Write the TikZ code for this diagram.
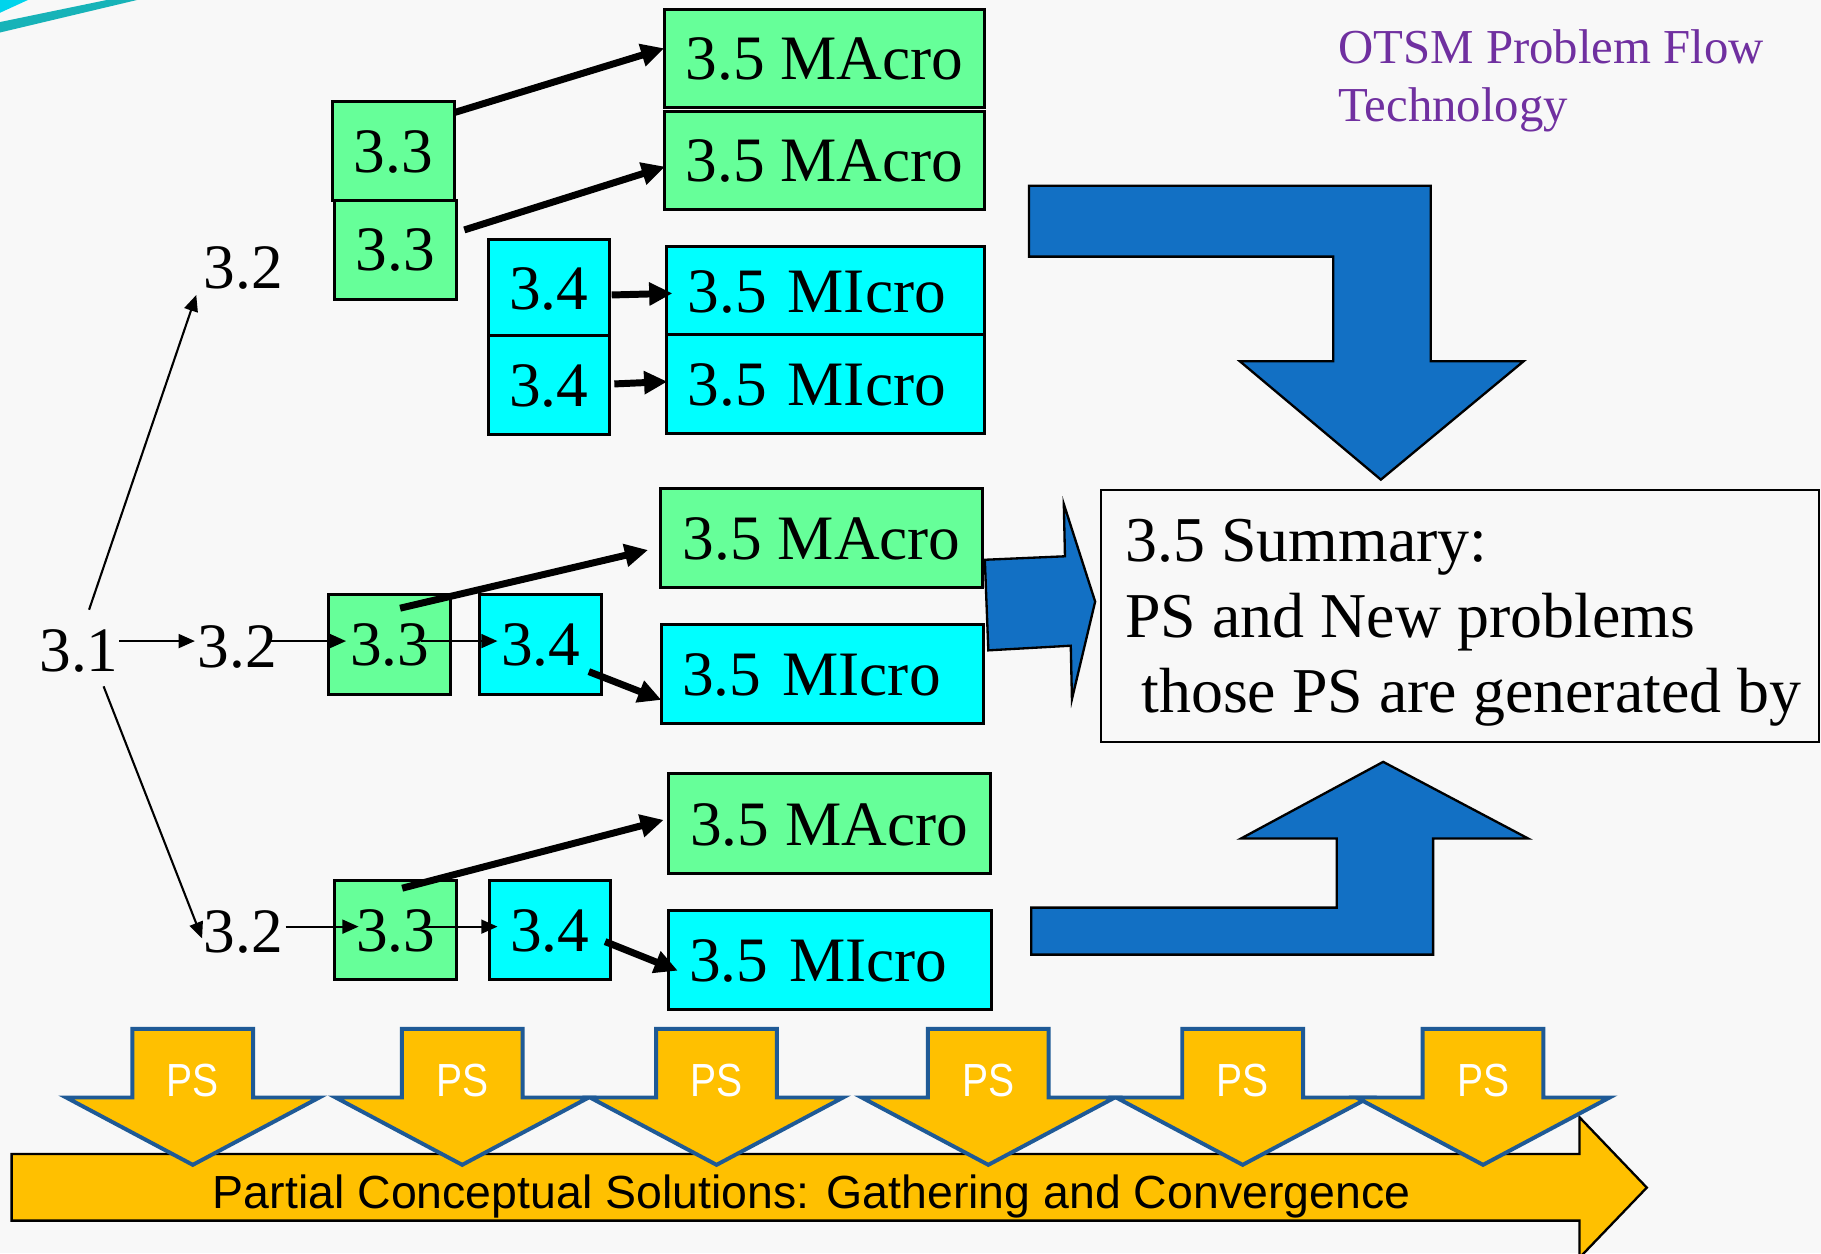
\documentclass[tikz,border=0pt]{standalone}
\usepackage{fontspec}
\setmainfont{Liberation Serif}
\newfontfamily\barsans{Liberation Sans}
\newfontfamily\pssans[FakeStretch=0.84]{Liberation Sans}
\usetikzlibrary{arrows.meta,calc}

\definecolor{boxgreen}{HTML}{66FF99}
\definecolor{boxcyan}{HTML}{00FFFF}
\definecolor{flowblue}{HTML}{1270C4}
\definecolor{psgold}{HTML}{FFC000}
\definecolor{psedge}{HTML}{1F5A96}
\definecolor{titlepurple}{HTML}{7030A0}
\definecolor{paper}{HTML}{F8F8F8}
\definecolor{swoosh}{HTML}{17B3B8}
\definecolor{swooshlight}{HTML}{00D4EC}

\newlength\px
\setlength\px{0.5pt}

\tikzset{
  every node/.style={inner sep=0pt},
  numfont/.style={font=\fontsize{27.25pt}{33pt}\selectfont},
  numtext/.style={numfont, text height=18.4pt, text depth=0pt},
  stepbox/.style={numtext, draw=black, line width=1.3pt, align=center},
  greenbox/.style={stepbox, fill=boxgreen},
  cyanbox/.style={stepbox, fill=boxcyan},
  dims/.style 2 args={minimum width=#1\px, minimum height=#2\px},
  microbox/.style 2 args={cyanbox, align=left, inner xsep=18\px,
                          text width=#1\px, minimum height=#2\px},
  thinarrow/.style={line width=0.9pt, -{Triangle[length=7pt,width=6pt]}},
  thickarrow/.style={line width=3pt, -{Triangle[length=10pt,width=9.5pt]}},
  bigblue/.style={fill=flowblue, draw=black, line width=1pt, line join=miter},
  psarrow/.style={fill=psgold, draw=psedge, line width=1.7pt, line join=miter},
  pstext/.style={font=\pssans\fontsize{20pt}{24pt}\selectfont, text=white, anchor=base},
  titletext/.style={font=\fontsize{21pt}{25pt}\selectfont, text=titlepurple, anchor=base west},
}

\begin{document}
\begin{tikzpicture}[x=0.5pt,y=-0.5pt]
% page
\path[use as bounding box, fill=paper] (0,0) rectangle (1568,1079);

% corner swoosh
\fill[swooshlight] (0,0) -- (24,0) -- (0,11) -- cycle;
\fill[swoosh] (0,19) -- (92,0) -- (118,0) -- (0,28) -- cycle;

% title
\node[titletext] (title1) at (1152,54.5) {OTSM Problem Flow};
\node[titletext] (title2) at (1152,104.8) {Technology};

% big blue arrows towards the summary
\draw[bigblue] (886,160) -- (1232,160) -- (1232,311) -- (1312,311) -- (1189,413)
  -- (1067.5,311) -- (1148,311) -- (1148,221) -- (886,221) -- cycle;
\draw[bigblue] (888,781.5) -- (1151,781.5) -- (1151,722) -- (1068.6,722) -- (1191,656)
  -- (1315.8,722) -- (1234,722) -- (1234,822) -- (888,822) -- cycle;
\draw[bigblue] (848,482) -- (917,479) -- (916,434) -- (943,518) -- (923,602)
  -- (922,556) -- (851,560) -- cycle;

% upper branch
\node[greenbox, dims={276}{84}] (ma1) at (710,50.2) {3.5 MAcro};
\node[greenbox, dims={276}{84}] (ma2) at (710,138.2) {3.5 MAcro};
\node[greenbox, dims={104.6}{84.7}] (a33) at (338.7,129.9) {3.3};
\node[greenbox, dims={104.4}{85.3}] (b33) at (340.5,214.9) {3.3};
\node[cyanbox, dims={104.3}{82.7}] (c34) at (472.5,248) {3.4};
\node[cyanbox, dims={104.3}{85.2}] (d34) at (472.5,331.9) {3.4};
\node[microbox={238}{76}] (mi1) at (711,250.4) {3.5 MIcro};
\node[microbox={238}{84.7}] (mi2) at (711,330.8) {3.5 MIcro};
\node[numtext] (t32) at (209.4,230.3) {3.2};

% middle branch
\node[numtext] (n31) at (68,560) {3.1};
\node[numtext] (m32) at (204.4,556.6) {3.2};
\node[greenbox, dims={105}{85.8}] (m33) at (335.5,555) {3.3};
\node[cyanbox, dims={105}{85.8}] (m34) at (465.5,555) {3.4};
\node[greenbox, dims={277}{84.7}] (mma) at (707.5,463.4) {3.5 MAcro};
\node[microbox={241}{85.4}] (mmi) at (708,580.7) {3.5 MIcro};

% lower branch
\node[numtext] (b32) at (209.7,801.5) {3.2};
\node[greenbox, dims={105}{84.7}] (l33) at (340.9,800.7) {3.3};
\node[cyanbox, dims={104.6}{84.7}] (l34) at (473.5,800.7) {3.4};
\node[greenbox, dims={277.3}{85.6}] (bma) at (714,709.2) {3.5 MAcro};
\node[microbox={242.4}{84.7}] (bmi) at (714.6,826.5) {3.5 MIcro};

% summary
\node[draw=black, line width=1pt, dims={618}{217}] (summary) at (1257,530.5) {};
\node[font=\fontsize{27.5pt}{32.65pt}\selectfont, align=left, anchor=north west]
  (sumtext) at (968.7,446.4)
  {3.5 Summary:\\PS and New problems\\\hspace*{0.25em}those PS are generated by};

% thin connectors
\draw[thinarrow] ($(n31)+(8.7,-35)$) -- ($(t32)+(-40.4,23.7)$);
\draw[thinarrow] ($(n31)+(34.8,-8)$) -- ($(m32)+(-36.6,-4.6)$);
\draw[thinarrow] ($(n31)+(21.2,31)$) -- ($(b32)+(-35.7,6.5)$);
\draw[thinarrow] ($(m32)+(27.6,-4.6)$) -- ($(m33)+(-37.5,-3)$);
\draw[thinarrow] ($(m33)+(26.8,-3)$) -- ($(m34)+(-37.1,-3)$);
\draw[thinarrow] ($(b32)+(36.3,-3.6)$) -- ($(l33)+(-32.1,-2.8)$);
\draw[thinarrow] ($(l33)+(23.1,-2.8)$) -- ($(l34)+(-45.1,-2.8)$);

% thick connectors
\draw[thickarrow] ($(a33)+(52.3,-32.9)$) -- ($(ma1)+(-138,-8.6)$);
\draw[thickarrow] ($(b33)+(59.3,-16.9)$) -- ($(ma2)+(-137.4,5.3)$);
\draw[thickarrow] ($(c34)+(54.2,6)$) -- ($(mi1)+(-132,2.2)$);
\draw[thickarrow] ($(d34)+(56.5,-1.3)$) -- ($(mi2)+(-136.4,-2.2)$);
\draw[thickarrow] ($(m33)+(9,-31.3)$) -- ($(mma)+(-149.5,10.2)$);
\draw[thickarrow] ($(m34)+(41.5,23.3)$) -- ($(mmi)+(-138.5,22)$);
\draw[thickarrow] ($(l33)+(5.4,-35.9)$) -- ($(bma)+(-142.5,-3.2)$);
\draw[thickarrow] ($(l34)+(47.5,10.1)$) -- ($(bmi)+(-131,9.3)$);

% gathering bar
\draw[fill=psgold, draw=black, line width=1pt, line join=miter]
  (10,993.7) -- (1360,993.7) -- (1360,962) -- (1418,1022.6) -- (1360,1083)
  -- (1360,1051) -- (10,1051) -- cycle;
\node[font=\barsans\fontsize{20pt}{24pt}\selectfont, anchor=base west] (bartext)
  at (183,1040.4) {Partial Conceptual Solutions: Gathering and Convergence};

% partial solution arrows
\foreach \c [count=\i] in {166,398,617,851,1070,1277}{
  \draw[psarrow] (\c-52,886) -- (\c+52,886) -- (\c+52,945) -- (\c+109,945)
    -- (\c,1003) -- (\c-109,945) -- (\c-52,945) -- cycle;
  \node[pstext] (ps\i) at (\c,944.3) {PS};
}
\end{tikzpicture}
\end{document}
